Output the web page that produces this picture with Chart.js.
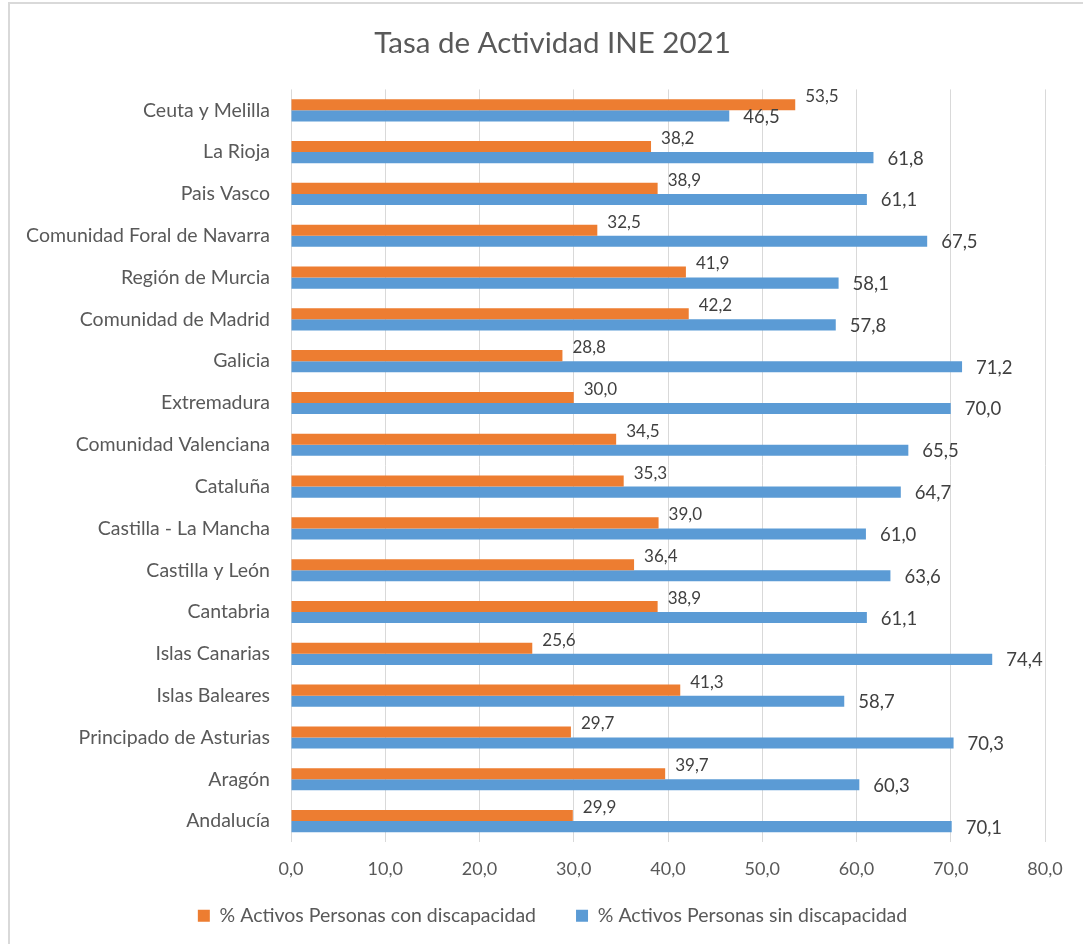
<!DOCTYPE html>
<html>
<head>
<meta charset="utf-8">
<script src="https://cdn.jsdelivr.net/npm/chart.js@4.4.1/dist/chart.umd.min.js"></script>
<style>
    html, body { margin: 0; padding: 0; background: #fff; }
    #wrap { width: 1083px; height: 944px; position: relative; }
</style>
</head>
<body>
<div id="wrap"><canvas id="actividad-chart"></canvas></div>
<script>
var regiones = [
    'Ceuta y Melilla', 'La Rioja', 'Pais Vasco', 'Comunidad Foral de Navarra',
    'Región de Murcia', 'Comunidad de Madrid', 'Galicia', 'Extremadura',
    'Comunidad Valenciana', 'Cataluña', 'Castilla - La Mancha', 'Castilla y León',
    'Cantabria', 'Islas Canarias', 'Islas Baleares', 'Principado de Asturias',
    'Aragón', 'Andalucía'
];
var conDiscapacidad = [53.5, 38.2, 38.9, 32.5, 41.9, 42.2, 28.8, 30.0, 34.5, 35.3, 39.0, 36.4, 38.9, 25.6, 41.3, 29.7, 39.7, 29.9];
var sinDiscapacidad = [46.5, 61.8, 61.1, 67.5, 58.1, 57.8, 71.2, 70.0, 65.5, 64.7, 61.0, 63.6, 61.1, 74.4, 58.7, 70.3, 60.3, 70.1];
var xTicks = [0, 10, 20, 30, 40, 50, 60, 70, 80];

var orange = '#ED7D31';
var blue = '#5B9BD5';
var textGray = '#595959';
var fontFamily = 'Lato, "Open Sans", sans-serif';

function formatComma(v) {
    return Number(v).toFixed(1).replace('.', ',');
}

// white background + thin frame like the Excel chart area
var frameBackground = {
    id: 'frameBackground',
    beforeDraw: function (chart) {
        var ctx = chart.ctx;
        ctx.save();
        ctx.fillStyle = '#fff';
        ctx.fillRect(0, 0, chart.width, chart.height);
        ctx.strokeStyle = '#d9d9d9';
        ctx.lineWidth = 2;
        ctx.strokeRect(9, 3, chart.width + 10, chart.height + 10);
        ctx.restore();
    }
};

// Excel centres title and legend on the frame, and keeps the legend a bit higher
var placeBlocks = {
    id: 'placeBlocks',
    afterLayout: function (chart) {
        if (chart.titleBlock) chart.titleBlock.left = 60;
        if (chart.legend) {
            chart.legend.left = 60;
            chart.legend.top = 866;
        }
    }
};

// value labels at the end of each bar
var barValueLabels = {
    id: 'barValueLabels',
    afterDatasetsDraw: function (chart) {
        var ctx = chart.ctx;
        ctx.save();
        ctx.fillStyle = '#404040';
        ctx.textAlign = 'left';
        ctx.textBaseline = 'middle';
        chart.data.datasets.forEach(function (ds, i) {
            var meta = chart.getDatasetMeta(i);
            var small = i === 0;
            ctx.font = (small ? 17 : 18.5) + 'px ' + fontFamily;
            meta.data.forEach(function (bar, j) {
                var dx = small ? 10 : 14;
                var dy = small ? -8 : 1;
                ctx.fillText(formatComma(ds.data[j]), bar.x + dx, bar.y + dy);
            });
        });
        ctx.restore();
    }
};

new Chart(document.getElementById('actividad-chart'), {
    type: 'bar',
    plugins: [frameBackground, placeBlocks, barValueLabels],
    data: {
        labels: regiones,
        datasets: [
            {
                label: '% Activos Personas con discapacidad',
                data: conDiscapacidad,
                backgroundColor: orange,
                borderWidth: 0,
                categoryPercentage: 0.53,
                barPercentage: 1.0
            },
            {
                label: '% Activos Personas sin discapacidad',
                data: sinDiscapacidad,
                backgroundColor: blue,
                borderWidth: 0,
                categoryPercentage: 0.53,
                barPercentage: 1.0
            }
        ]
    },
    options: {
        indexAxis: 'y',
        responsive: true,
        maintainAspectRatio: false,
        animation: false,
        layout: { padding: { left: 10, right: 38, top: 0, bottom: -7.5 } },
        scales: {
            x: {
                min: 0,
                max: 80,
                afterBuildTicks: function (scale) {
                    scale.ticks = xTicks.map(function (v) { return { value: v }; });
                },
                afterFit: function (scale) { scale.height = 40; },
                grid: { color: '#d9d9d9', lineWidth: 1, drawTicks: false },
                border: { display: false },
                ticks: {
                    padding: 16,
                    color: textGray,
                    font: { family: fontFamily, size: 18 },
                    callback: function (v) { return formatComma(v); }
                }
            },
            y: {
                afterFit: function (scale) { scale.width = 281; },
                grid: { display: false, drawTicks: false },
                border: { display: false },
                ticks: {
                    padding: 21,
                    color: textGray,
                    font: { family: fontFamily, size: 19.5 }
                }
            }
        },
        plugins: {
            title: {
                display: true,
                text: 'Tasa de Actividad INE 2021',
                color: textGray,
                font: { family: fontFamily, size: 29.5, weight: 'normal' },
                padding: { top: 26, bottom: 28 }
            },
            legend: {
                position: 'bottom',
                labels: {
                    color: textGray,
                    font: { family: fontFamily, size: 19.5 },
                    boxWidth: 12,
                    boxHeight: 12,
                    padding: 40
                }
            },
            tooltip: { enabled: false }
        }
    }
});
</script>
</body>
</html>
